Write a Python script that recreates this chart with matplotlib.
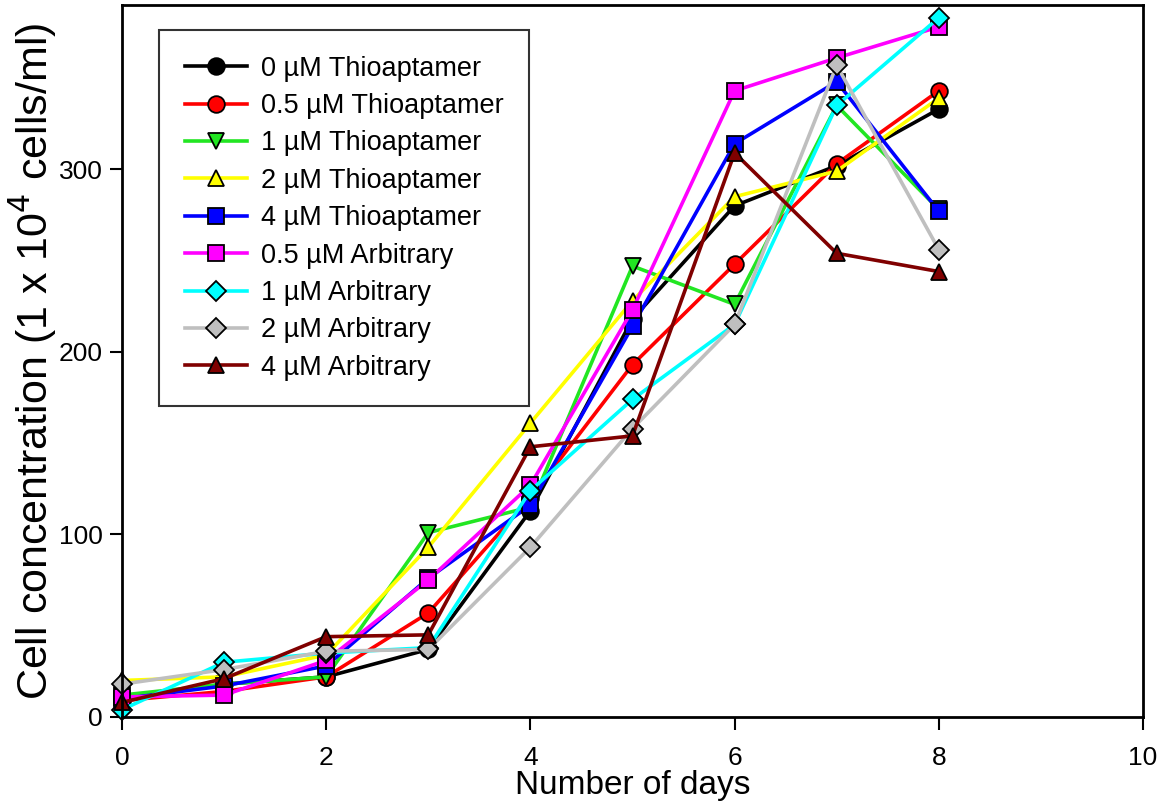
import numpy as np
import matplotlib
matplotlib.use('Agg')
import matplotlib.pyplot as plt

plt.rcParams['font.family'] = ['Liberation Sans', 'DejaVu Sans']

days = np.arange(0, 9)

thio_0 = [10, 18, 22, 37, 113, 218, 280, 302, 333]
thio_05 = [9, 14, 22, 57, 120, 193, 248, 303, 343]
thio_1 = [12, 18, 22, 101, 115, 247, 226, 335, 278]
thio_2 = [20, 22, 34, 93, 161, 228, 285, 299, 339]
thio_4 = [10, 17, 28, 76, 116, 214, 314, 348, 277]
arb_05 = [11, 12, 31, 75, 127, 223, 343, 361, 378]
arb_1 = [4, 30, 35, 38, 124, 174, 215, 335, 383]
arb_2 = [18, 26, 36, 37, 93, 158, 215, 357, 256]
arb_4 = [8, 21, 44, 45, 148, 154, 309, 254, 244]

labels = ['0 \u00b5M Thioaptamer', '0.5 \u00b5M Thioaptamer', '1 \u00b5M Thioaptamer',
          '2 \u00b5M Thioaptamer', '4 \u00b5M Thioaptamer', '0.5 \u00b5M Arbitrary',
          '1 \u00b5M Arbitrary', '2 \u00b5M Arbitrary', '4 \u00b5M Arbitrary']
series = [thio_0, thio_05, thio_1, thio_2, thio_4, arb_05, arb_1, arb_2, arb_4]
colors = ['#000000', '#ff0000', '#22e622', '#ffff00', '#0000ff',
          '#ff00ff', '#00ffff', '#bfbfbf', '#800000']
markers = ['o', 'o', 'v', '^', 's', 's', 'D', 'D', '^']
msizes = [12, 12, 12, 12, 11, 11, 10, 10, 12]

fig = plt.figure(figsize=(11.71, 8.11), dpi=100)
ax = fig.add_axes([122 / 1171, 1 - 717 / 811, (1143 - 122) / 1171, (717 - 5) / 811])

for y, lab, c, m, ms in zip(series, labels, colors, markers, msizes):
    ax.plot(days, y, color=c, marker=m, markersize=ms, markerfacecolor=c,
            markeredgecolor='black', markeredgewidth=1.3, linewidth=2.6,
            label=lab, clip_on=False)

ax.set_xlim(0, 10)
ax.set_ylim(0, 390)
ax.set_xticks([0, 2, 4, 6, 8, 10])
ax.set_yticks([0, 100, 200, 300])
ax.tick_params(direction='out', length=9, width=1.5, labelsize=19)
ax.tick_params(axis='x', pad=12)
ax.tick_params(axis='y', pad=5)
for s in ax.spines.values():
    s.set_linewidth(2)

ax.set_xlabel('Number of days', fontsize=24, labelpad=0)
ax.set_ylabel('Cell concentration (1 x 10$^4$ cells/ml)', fontsize=31, labelpad=0)

leg = ax.legend(loc='upper left', bbox_to_anchor=(159 / 1171, 1 - 30 / 811),
                bbox_transform=fig.transFigure, fontsize=19.5, frameon=True,
                fancybox=False, edgecolor='black', handlelength=2.3,
                handletextpad=0.5, labelspacing=0.42, borderpad=0.95,
                borderaxespad=0)
leg.get_frame().set_linewidth(1.5)

fig.savefig('out.png', dpi=100)
